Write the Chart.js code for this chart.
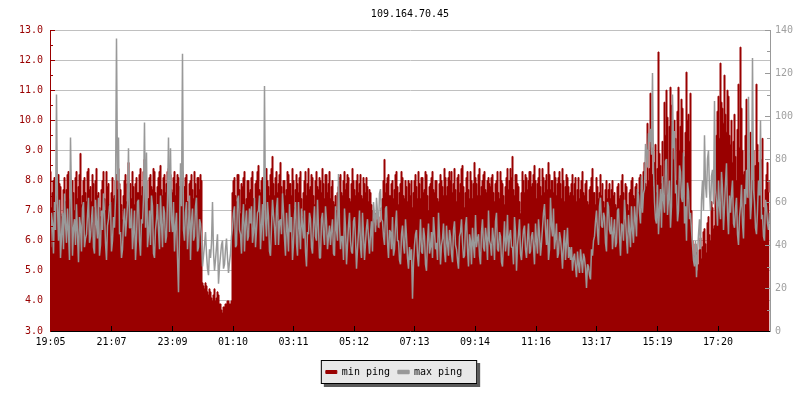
<!DOCTYPE html>
<html>
<head>
<meta charset="utf-8">
<title>109.164.70.45</title>
<script src="https://cdn.jsdelivr.net/npm/chart.js@4.4.1/dist/chart.umd.min.js"></script>
<style>
    html, body { margin: 0; padding: 0; background: #fff; }
</style>
</head>
<body>
<canvas id="chart" width="800" height="400"></canvas>
<script>
var chartTitle = '109.164.70.45';
var startTime = '19:05';
var sampleMinutes = 2;

var tickLabels = ['19:05', '21:07', '23:09', '01:10', '03:11', '05:12',
                  '07:13', '09:14', '11:16', '13:17', '15:19', '17:20'];

// min ping, left axis (ms), one sample every 2 minutes
var minPing = [
    8.3,7.1, 7.6,8.0, 8.1,7.5, 7.2,8.2, 8.2,7.9, 7.8,6.8, 6.9,7.7, 8.1,7.3, 7.7,8.2, 8.3,7.0, 7.4,7.9, 8.0,7.6, 7.0,8.1, 8.3,7.4, 7.8,8.2, 8.9,7.2, 7.5,8.0, 8.1,7.6, 7.3,8.3, 8.4,7.7,
    7.8,7.3, 8.2,7.9, 7.1,8.0, 8.4,7.5, 7.6,7.1, 6.8,7.7, 8.0,8.3, 7.4,7.0, 8.3,7.8, 7.9,7.2, 6.9,7.6, 8.1,7.4, 7.5,8.0, 8.2,7.7, 8.4,7.9, 7.7,7.2, 6.7,7.5, 8.0,8.2, 7.3,7.9, 8.6,7.6,
    7.9,7.4, 8.3,7.8, 7.2,7.9, 8.1,7.6, 7.6,8.2, 8.4,7.5, 7.8,8.3, 8.7,7.9, 8.0,7.3, 7.4,8.1, 8.2,7.8, 7.7,8.4, 8.3,7.6, 6.9,7.8, 8.1,8.3, 8.5,7.7, 7.5,8.1, 8.2,7.6, 7.9,8.3, 8.4,8.0,
    8.2,7.7, 7.6,8.1, 8.3,7.5, 7.9,8.2, 8.1,7.8, 7.4,8.0, 8.3,7.6, 7.8,8.1, 8.2,7.3, 7.0,7.9, 8.0,8.2, 7.7,7.4, 8.3,7.9, 7.5,8.1, 8.1,7.7, 8.2,8.0, 4.6,4.5, 4.4,4.6, 4.5,4.3, 4.2,4.4,
    4.3,4.1, 4.0,4.2, 4.4,4.0, 4.1,4.3, 4.2,3.9, 3.9,3.7, 3.6,3.8, 3.8,3.9, 3.9,4.0, 4.0,3.9, 3.9,4.0, 7.6,8.0, 8.1,7.5, 7.3,8.2, 8.2,7.7, 6.9,7.9, 7.8,8.1, 8.3,7.2, 7.4,8.0, 8.0,7.6,
    7.7,8.1, 8.3,7.4, 7.2,7.9, 8.0,8.3, 8.5,7.7, 7.6,8.0, 8.1,7.3, 7.0,7.8, 8.4,8.0, 7.8,7.5, 8.2,8.4, 8.8,7.9, 7.5,8.1, 8.3,7.6, 7.9,8.2, 8.6,7.8, 7.3,8.0, 8.0,7.5, 7.7,8.3, 8.2,7.9,
    7.9,7.5, 8.4,8.0, 7.1,7.7, 8.2,7.9, 7.6,8.1, 8.3,7.4, 6.8,7.6, 8.0,8.3, 7.5,7.9, 8.4,7.7, 7.8,8.2, 8.1,7.5, 7.2,8.0, 8.3,7.8, 7.7,8.1, 8.0,7.6, 8.4,7.9, 7.4,8.2, 8.2,7.6, 7.9,8.3,
    7.4,7.8, 8.0,7.3, 7.2,7.5, 7.0,7.6, 7.8,8.1, 8.2,7.6, 7.5,8.0, 8.3,7.7, 7.9,8.2, 8.1,7.4, 7.3,7.9, 8.4,8.0, 7.7,7.5, 8.0,8.2, 7.6,7.9, 8.2,7.5, 7.4,8.1, 7.9,7.6, 8.1,7.8, 7.3,7.7,
    7.6,7.2, 7.0,6.8, 6.6,6.9, 6.5,6.7, 6.8,6.4, 6.6,7.1, 7.4,8.0, 8.7,7.6, 7.9,8.1, 8.2,7.5, 7.5,7.9, 8.0,7.4, 7.7,8.2, 8.3,7.8, 7.2,7.6, 7.9,8.3, 8.1,7.5, 7.4,8.0, 7.8,7.3, 8.0,7.9,
    7.5,8.0, 7.1,7.6, 8.0,8.2, 7.8,7.4, 8.3,7.9, 7.4,8.1, 8.1,7.6, 7.7,8.3, 8.2,7.5, 7.0,7.8, 7.9,8.1, 8.3,7.7, 7.6,8.0, 8.0,7.4, 7.3,7.9, 8.2,8.0, 7.8,7.5, 8.4,8.1, 7.5,7.8, 8.1,8.3,
    8.0,8.3, 7.6,7.9, 8.4,7.7, 7.3,8.1, 8.2,7.6, 7.9,8.4, 8.5,7.8, 7.1,7.6, 8.1,8.3, 7.7,7.4, 8.3,8.0, 7.4,7.9, 8.6,8.1, 7.9,7.5, 8.2,8.4, 7.5,7.8, 8.0,8.2, 8.3,7.7, 7.6,8.0, 8.1,7.9,
    7.8,8.1, 8.2,7.6, 7.3,7.9, 8.0,8.3, 7.6,7.4, 8.3,8.0, 7.9,7.5, 7.2,7.8, 8.1,8.4, 7.7,8.0, 8.4,8.1, 8.8,7.7, 7.5,8.2, 8.2,7.9, 7.8,7.3, 6.9,7.6, 8.3,8.0, 7.6,8.2, 8.1,7.7, 8.0,8.3,
    8.3,7.8, 7.9,8.2, 8.5,8.0, 7.4,7.9, 8.1,8.4, 7.8,7.5, 8.4,8.1, 7.6,8.0, 8.2,7.7, 8.6,8.2, 7.7,8.0, 8.0,7.6, 8.3,8.1, 7.5,7.9, 8.1,8.3, 7.9,7.4, 8.4,8.0, 7.3,7.8, 8.2,8.1, 7.8,7.5,
    7.6,7.9, 8.2,7.5, 7.9,8.1, 7.3,7.7, 8.1,7.4, 7.7,8.0, 8.3,7.6, 7.5,7.9, 8.0,7.3, 7.2,7.7, 7.8,8.1, 8.4,7.6, 7.6,7.2, 8.1,7.8, 7.4,7.6, 8.2,7.5, 7.9,7.3, 7.1,7.7, 8.0,7.4, 7.7,7.9,
    7.4,7.7, 8.0,7.5, 7.6,7.2, 7.1,7.8, 7.9,7.4, 7.5,8.0, 8.2,7.6, 7.3,7.9, 7.8,7.2, 7.0,7.6, 7.7,8.0, 8.1,7.5, 7.4,7.8, 7.9,7.3, 7.6,8.1, 8.2,7.7, 7.5,8.3, 8.6,7.9, 7.8,9.9, 8.0,8.4,
    10.9,9.1, 8.2,7.8, 8.6,9.2, 7.6,8.4, 12.27,8.9, 8.5,7.9, 9.3,8.1, 10.6,9.5, 11.0,10.1, 7.2,9.8, 11.1,10.5, 9.6,8.7, 10.0,9.4, 8.0,10.3, 11.1,9.0, 9.8,10.7, 10.4,8.8, 7.5,9.6, 11.6,10.0, 10.2,9.3,
    10.9,7.0, 6.0,5.5, 5.3,5.9, 5.6,5.0, 5.2,5.7, 6.1,5.4, 5.8,6.3, 6.4,5.9, 5.6,6.6, 6.8,6.2, 6.0,7.3, 7.1,6.4, 6.5,8.2, 9.5,10.3, 10.8,9.4, 11.9,10.6, 10.4,9.9, 11.5,10.2, 9.6,11.0, 10.8,9.5,
    9.2,10.0, 8.6,9.3, 10.2,8.8, 8.0,9.7, 11.2,9.1, 12.43,10.4, 9.0,8.2, 8.3,9.5, 10.7,8.4, 7.4,8.9, 9.6,7.8, 8.0,9.0, 7.2,8.5, 11.2,9.2, 8.6,7.9, 7.5,8.7, 9.4,7.1, 6.3,7.7, 8.2,8.6, 7.6,8.0
];

// max ping, right axis, one sample every 2 minutes
var maxPing = [
    39,55, 50,36, 60,47, 110,58, 42,61, 34,44, 55,38, 64,50, 41,57, 46,33, 90,62, 35,48, 52,40, 59,45, 32,53, 49,37, 57,60, 39,43, 45,54, 62,41,
    44,52, 58,39, 36,61, 50,43, 62,35, 40,56, 47,64, 55,41, 33,49, 52,58, 60,37, 42,53, 48,62, 136,70, 90,45, 46,34, 38,51, 57,44, 51,59, 85,48,
    48,57, 38,46, 56,33, 43,60, 61,42, 35,52, 50,62, 97,48, 83,39, 45,56, 40,63, 58,36, 34,47, 52,59, 47,38, 63,50, 39,58, 55,41, 44,61, 90,46,
    85,52, 46,60, 37,49, 55,34, 18,45, 78,58, 129,47, 42,55, 60,38, 48,63, 33,51, 57,42, 44,58, 62,37, 39,52, 50,44, 30,35, 40,46, 36,29, 26,38,
    34,41, 60,37, 28,33, 39,45, 22,30, 35,40, 42,29, 31,38, 43,34, 27,32, 36,44, 48,55, 58,39, 40,61, 63,47, 45,36, 52,59, 37,50, 56,42, 44,57,
    50,58, 41,46, 62,39, 47,55, 56,63, 38,49, 59,42, 114,52, 44,60, 53,37, 35,48, 61,54, 48,40, 57,62, 40,51, 52,45, 64,56, 43,35, 55,47, 37,59,
    46,53, 33,41, 54,60, 41,35, 60,48, 38,57, 49,43, 56,37, 30,46, 45,55, 52,39, 36,50, 58,44, 42,61, 48,34, 34,52, 55,45, 40,58, 51,38, 44,49,
    40,47, 52,36, 35,58, 47,42, 73,50, 38,44, 44,33, 57,48, 31,40, 49,55, 42,37, 36,51, 53,43, 29,38, 46,56, 39,34, 55,45, 33,41, 48,52, 43,36,
    45,51, 37,60, 54,46, 62,55, 48,64, 66,52, 51,44, 40,57, 58,41, 34,47, 46,38, 53,35, 38,49, 56,42, 42,33, 31,45, 49,40, 36,52, 44,34, 29,39,
    33,38, 15,32, 40,45, 47,35, 30,41, 52,37, 36,48, 44,31, 28,42, 50,36, 39,46, 34,53, 46,38, 41,33, 55,44, 31,40, 43,50, 37,32, 49,41, 35,47,
    44,36, 32,47, 51,40, 38,33, 29,44, 46,52, 41,34, 35,49, 53,38, 30,45, 42,31, 48,40, 34,54, 39,43, 45,35, 31,46, 52,39, 37,48, 43,33, 56,42,
    40,35, 48,43, 33,51, 55,38, 37,46, 44,32, 30,41, 51,37, 42,54, 35,44, 47,39, 39,31, 53,46, 28,40, 45,52, 36,33, 41,47, 49,38, 34,43, 50,36,
    37,44, 46,39, 31,50, 42,36, 52,45, 35,41, 48,55, 59,47, 40,52, 33,38, 62,49, 44,57, 38,43, 50,34, 36,46, 43,37, 29,40, 47,33, 41,48, 34,39,
    33,39, 28,34, 36,30, 25,37, 31,27, 38,33, 27,36, 34,29, 20,31, 30,26, 24,38, 35,42, 44,51, 56,46, 40,58, 62,49, 48,55, 53,41, 37,60, 58,47,
    45,53, 38,46, 52,39, 41,56, 57,44, 35,50, 49,42, 61,53, 43,36, 54,47, 39,58, 47,41, 58,52, 44,66, 63,55, 50,72, 55,64, 66,87, 84,76, 92,88,
    94,82, 120,75, 60,52, 50,68, 45,57, 66,48, 72,61, 55,79, 80,54, 62,70, 48,58, 110,85, 93,64, 68,51, 56,77, 74,62, 60,83, 50,58, 42,69, 65,52,
    55,47, 40,33, 30,42, 25,36, 45,52, 38,61, 70,56, 91,68, 62,80, 84,65, 56,72, 75,59, 107,66, 60,49, 70,58, 52,74, 66,47, 58,69, 78,55, 45,63,
    55,64, 70,50, 48,57, 62,45, 40,53, 58,68, 50,43, 66,59, 75,62, 109,71, 52,60, 127,66, 60,48, 45,56, 70,63, 98,52, 54,44, 42,61, 58,50, 47,55
];

var RED = '#990000';
var GREY = '#999999';
var FONT = 'DejaVu Sans Mono';

// minutes after the first sample for a hh:mm label
var minutesFromStart = function(label) {
    var p = label.split(':'), s = startTime.split(':');
    var m = (+p[0] * 60 + +p[1]) - (+s[0] * 60 + +s[1]);
    return m < 0 ? m + 1440 : m;
};
var tickMinutes = tickLabels.map(minutesFromStart);

var toPoints = function(values) {
    return values.map(function(v, i) {
        return {x: i * sampleMinutes, y: v};
    });
};

// rrd style ticks pointing into the plot
var innerTicks = {
    id: 'innerTicks',
    afterDatasetsDraw: function(chart) {
        var ctx = chart.ctx, area = chart.chartArea;
        var ys = chart.scales.y, y2 = chart.scales.y2, xs = chart.scales.x;
        ctx.save();
        ctx.lineWidth = 1;

        ctx.strokeStyle = RED;
        ys.ticks.forEach(function(t) {
            var py = Math.round(ys.getPixelForValue(t.value)) + 0.5;
            var len = t.value % 1 === 0 ? 5 : 3;
            ctx.beginPath();
            ctx.moveTo(area.left, py);
            ctx.lineTo(area.left + len, py);
            ctx.stroke();
        });

        ctx.strokeStyle = GREY;
        y2.ticks.forEach(function(t) {
            var py = Math.round(y2.getPixelForValue(t.value)) + 0.5;
            var len = t.value % 20 === 0 ? 5 : 3;
            ctx.beginPath();
            ctx.moveTo(area.right, py);
            ctx.lineTo(area.right - len, py);
            ctx.stroke();
        });

        ctx.strokeStyle = '#000';
        xs.ticks.forEach(function(t) {
            var px = Math.floor(xs.getPixelForValue(t.value)) + 0.5;
            ctx.beginPath();
            ctx.moveTo(px, area.bottom);
            ctx.lineTo(px, area.bottom - 5);
            ctx.stroke();
        });
        ctx.restore();
    }
};

// title over the plot centre, legend nudged left inside its shadowed box
var legendShift = 6;
var frame = {
    id: 'frame',
    afterUpdate: function(chart) {
        var area = chart.chartArea;
        if (chart.titleBlock) {
            chart.titleBlock.left = area.left;
            chart.titleBlock.right = area.right;
        }
        var lg = chart.legend;
        lg.left -= legendShift;
        lg.right -= legendShift;
        lg.legendHitBoxes.forEach(function(h) { h.left -= legendShift; });
    },
    beforeDraw: function(chart) {
        var hb = chart.legend.legendHitBoxes;
        if (!hb.length) return;
        var first = hb[0], last = hb[hb.length - 1];
        var x1 = first.left - 5, x2 = last.left + last.width + 15;
        var y1 = first.top - 7, y2 = first.top + first.height + 7;
        var ctx = chart.ctx;
        ctx.save();
        ctx.fillStyle = '#5a5a5a';
        ctx.fillRect(x1 + 3, y1 + 3, x2 - x1, y2 - y1);
        ctx.fillStyle = '#e8e8e8';
        ctx.fillRect(x1, y1, x2 - x1, y2 - y1);
        ctx.strokeStyle = '#000';
        ctx.lineWidth = 1;
        ctx.strokeRect(x1 + 0.5, y1 + 0.5, x2 - x1 - 1, y2 - y1 - 1);
        ctx.restore();
    }
};

new Chart(document.getElementById('chart'), {
    type: 'line',
    data: {
        datasets: [{
            label: 'min ping',
            data: toPoints(minPing),
            yAxisID: 'y',
            borderColor: RED,
            backgroundColor: RED,
            borderWidth: 1,
            fill: 'start',
            stepped: 'middle',
            pointRadius: 0,
            order: 2
        }, {
            label: 'max ping',
            data: toPoints(maxPing),
            yAxisID: 'y2',
            borderColor: GREY,
            backgroundColor: GREY,
            borderWidth: 1.5,
            borderJoinStyle: 'bevel',
            fill: false,
            tension: 0,
            pointRadius: 0,
            order: 1
        }]
    },
    options: {
        responsive: false,
        animation: false,
        layout: {padding: {left: 0, right: 0, top: 0, bottom: 13}},
        font: {family: FONT, size: 10},
        plugins: {
            title: {
                display: true,
                text: chartTitle,
                color: '#000',
                font: {family: FONT, size: 10, weight: 'normal'},
                padding: {top: 8, bottom: 10}
            },
            legend: {
                position: 'bottom',
                labels: {
                    color: '#000',
                    font: {family: FONT, size: 10},
                    boxWidth: 11,
                    boxHeight: 3,
                    padding: 8,
                    sort: function(a, b) { return a.datasetIndex - b.datasetIndex; }
                }
            },
            tooltip: {enabled: false}
        },
        scales: {
            x: {
                type: 'linear',
                // each sample sits in the middle of its own pixel column
                min: -sampleMinutes / 2,
                max: (minPing.length - 0.5) * sampleMinutes,
                afterBuildTicks: function(scale) {
                    scale.ticks = tickMinutes.map(function(v) { return {value: v}; });
                },
                afterFit: function(scale) { scale.height = 28; },
                grid: {display: false, drawTicks: false},
                border: {display: true, color: '#000', z: 1},
                ticks: {
                    autoSkip: false,
                    maxRotation: 0,
                    color: '#000',
                    padding: 5,
                    font: {family: FONT, size: 10},
                    callback: function(value) {
                        return tickLabels[tickMinutes.indexOf(value)];
                    }
                }
            },
            y: {
                position: 'left',
                min: 3,
                max: 13,
                afterFit: function(scale) { scale.width = 50; },
                grid: {
                    drawTicks: false,
                    color: function(c) {
                        return c.tick && c.tick.value % 1 === 0 ? '#c0c0c0' : 'rgba(0,0,0,0)';
                    }
                },
                border: {display: true, color: RED, z: 1},
                ticks: {
                    stepSize: 0.5,
                    autoSkip: false,
                    color: RED,
                    padding: 7,
                    font: {family: FONT, size: 10},
                    callback: function(value) {
                        return value % 1 === 0 ? value.toFixed(1) : '';
                    }
                }
            },
            y2: {
                position: 'right',
                min: 0,
                max: 140,
                afterFit: function(scale) { scale.width = 30; },
                grid: {drawOnChartArea: false, drawTicks: false},
                border: {display: true, color: GREY, z: 1},
                ticks: {
                    stepSize: 10,
                    autoSkip: false,
                    color: '#a0a0a0',
                    padding: 5,
                    font: {family: FONT, size: 10},
                    callback: function(value) {
                        return value % 20 === 0 ? value : '';
                    }
                }
            }
        }
    },
    plugins: [innerTicks, frame]
});
</script>
</body>
</html>
